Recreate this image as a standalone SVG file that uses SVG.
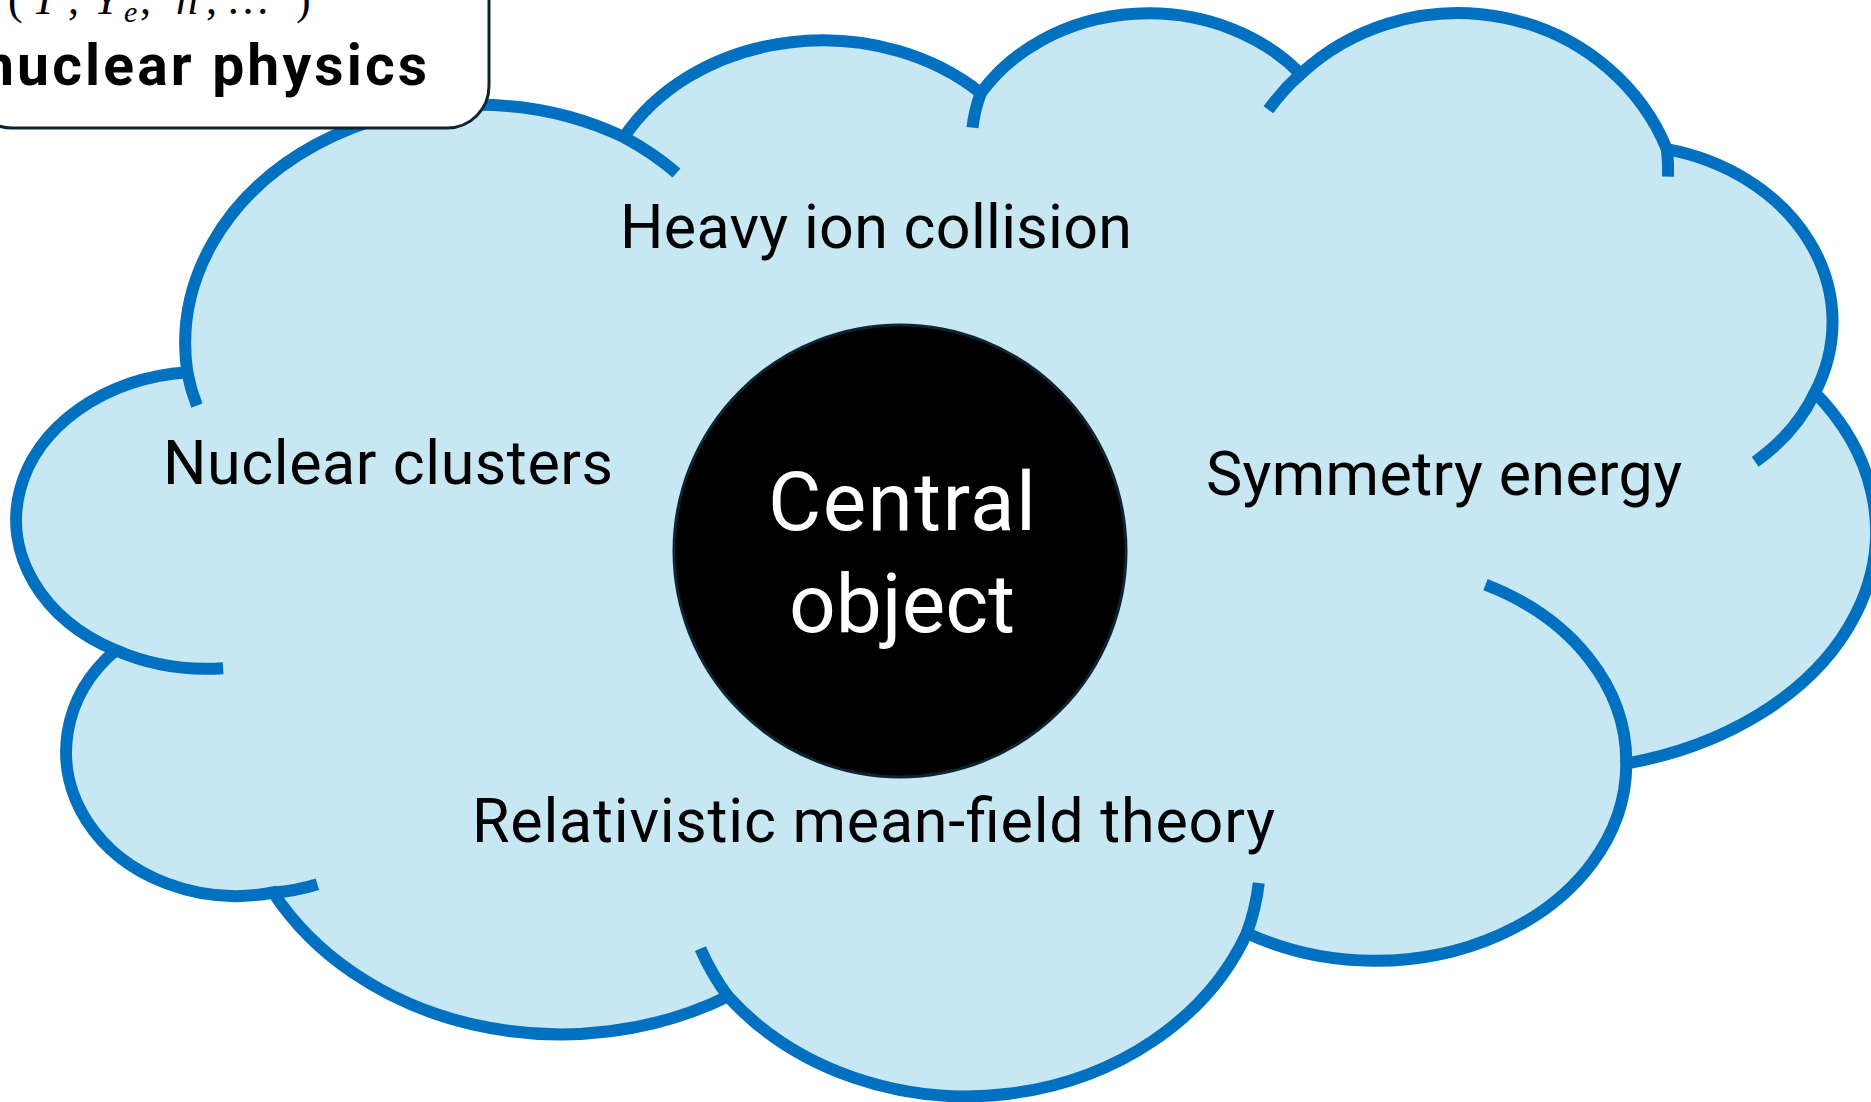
<svg xmlns="http://www.w3.org/2000/svg" width="1871" height="1102" viewBox="0 0 1871 1102">
  <style>
    .cloud { fill: #C7E7F3; stroke: #0070C0; stroke-width: 12; stroke-linejoin: miter; }
    .tail { fill: none; stroke: #0070C0; stroke-width: 12; stroke-linecap: butt; }
    .label { font-family: Roboto, "Liberation Sans", sans-serif; font-size: 61px; fill: #000000; }
    .central { font-family: Roboto, "Liberation Sans", sans-serif; font-size: 82px; fill: #FFFFFF; text-anchor: middle; }
    .boxtitle { font-family: Roboto, "Liberation Sans", sans-serif; font-size: 57px; font-weight: bold; fill: #000000; }
    .math { font-family: "Liberation Serif", "DejaVu Serif", serif; font-size: 44px; fill: #000000; }
  </style>
  <rect x="0" y="0" width="1871" height="1102" fill="#FFFFFF"/>

  <g id="cloud">
    <path class="cloud" d="M 187.3,372.3 A 292 239 0 0 1 624.0,137.2 A 227 187 0 0 1 980.8,93.1 A 197 167 0 0 1 1300.6,74.0 A 225 215 0 0 1 1666.9,149.2 A 212 177 0 0 1 1814.9,392.6 A 328 239 0 0 1 1626.3,763.6 A 251 197 0 0 1 1246.9,933.1 A 302 259 0 0 1 727.9,996.3 A 327 271 0 0 1 273.2,892.5 A 170 144 0 0 1 115.7,650.3 A 188 148 0 0 1 187.3,372.3 Z"/>
    <path class="tail" d="M 196.9,405.7 A 292 239 0 0 1 187.3,372.3"/>
    <path class="tail" d="M 624.0,137.2 A 292 239 0 0 1 676.5,173.0"/>
    <path class="tail" d="M 972.5,127.7 A 197 167 0 0 1 980.8,93.1"/>
    <path class="tail" d="M 1268.4,109.8 A 225 215 0 0 1 1300.6,74.0"/>
    <path class="tail" d="M 1666.9,149.2 A 225 215 0 0 1 1668.1,176.6"/>
    <path class="tail" d="M 1814.9,392.6 A 212 177 0 0 1 1755.2,461.8"/>
    <path class="tail" d="M 1485.5,584.7 A 251 197 0 0 1 1626.3,763.6"/>
    <path class="tail" d="M 1258.8,883.0 A 302 259 0 0 1 1246.9,933.1"/>
    <path class="tail" d="M 727.9,996.3 A 302 259 0 0 1 700.4,948.6"/>
    <path class="tail" d="M 317.4,884.2 A 170 144 0 0 1 273.2,892.5"/>
    <path class="tail" d="M 223.1,668.2 A 188 148 0 0 1 115.7,650.3"/>
  </g>

  <g id="label-heavy-ion">
    <text class="label" x="620" y="248" textLength="512" lengthAdjust="spacing">Heavy ion collision</text>
  </g>
  <g id="label-nuclear-clusters">
    <text class="label" x="163" y="484" textLength="450" lengthAdjust="spacing">Nuclear clusters</text>
  </g>
  <g id="label-symmetry-energy">
    <text class="label" x="1206" y="495" textLength="476" lengthAdjust="spacing">Symmetry energy</text>
  </g>
  <g id="label-rmf">
    <text class="label" x="472" y="842" textLength="803" lengthAdjust="spacing">Relativistic mean-field theory</text>
  </g>

  <g id="central-object">
    <circle cx="900" cy="551" r="226" fill="#000000" stroke="#0E2433" stroke-width="3"/>
    <text class="central" x="902" y="530" textLength="268" lengthAdjust="spacing">Central</text>
    <text class="central" x="902" y="632" textLength="226" lengthAdjust="spacing">object</text>
  </g>

  <g id="title-box">
    <rect x="-30" y="-60" width="519" height="188" rx="42" ry="42" fill="#FFFFFF" stroke="#0E2433" stroke-width="3"/>
    <text class="math" y="14"><tspan x="8">(</tspan><tspan x="32" font-style="italic">T</tspan><tspan x="68">,</tspan><tspan x="94" font-style="italic">Y</tspan><tspan x="124" y="22" font-size="30" font-style="italic">e</tspan><tspan x="140" y="14">,</tspan><tspan x="176" font-style="italic">n</tspan><tspan x="206">,</tspan><tspan x="226">…</tspan><tspan x="296">)</tspan></text>
    <text class="boxtitle" x="-18" y="85" textLength="445" lengthAdjust="spacing">nuclear physics</text>
  </g>

  <g id="connectors"/>
</svg>
